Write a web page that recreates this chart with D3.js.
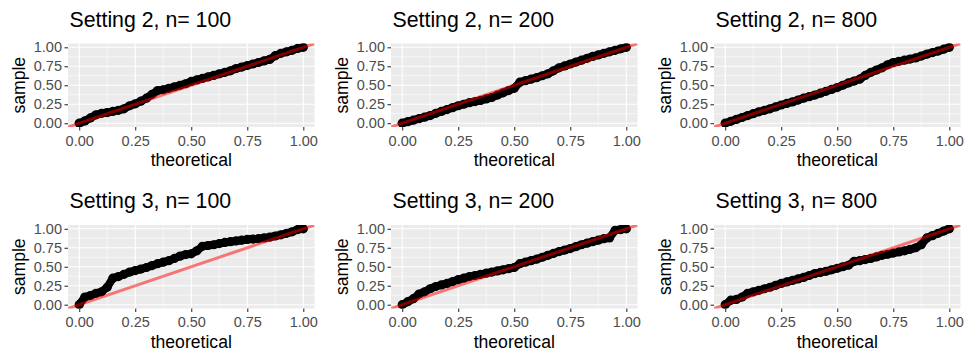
<!DOCTYPE html>
<html>
<head>
<meta charset="utf-8">
<script src="https://cdn.jsdelivr.net/npm/d3@7"></script>
<style>
  html, body { margin: 0; padding: 0; background: #fff; }
  svg { display: block; font-family: "Liberation Sans", Arial, Helvetica, sans-serif; }
</style>
</head>
<body>
<svg id="chart" width="969" height="363"></svg>
<script>
// ---- data ----
const panelTitles = ["Setting 2, n= 100", "Setting 2, n= 200", "Setting 2, n= 800",
                     "Setting 3, n= 100", "Setting 3, n= 200", "Setting 3, n= 800"];
const tickValues = [0, 0.25, 0.5, 0.75, 1];
const tickLabels = ["0.00", "0.25", "0.50", "0.75", "1.00"];
const minorValues = [0.125, 0.375, 0.625, 0.875];
const xTitle = "theoretical";
const yTitle = "sample";

// theoretical quantiles (shared)
const theoretical = [0, 0.025, 0.05, 0.075, 0.1, 0.125, 0.15, 0.175, 0.2, 0.225,
  0.25, 0.275, 0.3, 0.325, 0.35, 0.375, 0.4, 0.425, 0.45, 0.475,
  0.5, 0.525, 0.55, 0.575, 0.6, 0.625, 0.65, 0.675, 0.7, 0.725,
  0.75, 0.775, 0.8, 0.825, 0.85, 0.875, 0.9, 0.925, 0.95, 0.975, 1];

const s2n100 = [0, 0.03, 0.07, 0.11, 0.13, 0.14, 0.155, 0.17, 0.19, 0.23,
  0.255, 0.29, 0.33, 0.38, 0.43, 0.44, 0.46, 0.48, 0.50, 0.52,
  0.55, 0.57, 0.59, 0.61, 0.63, 0.65, 0.67, 0.69, 0.72, 0.74,
  0.76, 0.78, 0.80, 0.82, 0.84, 0.89, 0.92, 0.94, 0.96, 0.985, 1];
const s2n200 = [0, 0.02, 0.04, 0.06, 0.08, 0.10, 0.13, 0.155, 0.18, 0.205,
  0.23, 0.25, 0.27, 0.285, 0.30, 0.32, 0.34, 0.37, 0.40, 0.43,
  0.46, 0.54, 0.56, 0.58, 0.60, 0.625, 0.65, 0.69, 0.73, 0.755,
  0.78, 0.805, 0.83, 0.855, 0.88, 0.90, 0.92, 0.94, 0.96, 0.98, 1];
const s2n800 = [0, 0.025, 0.05, 0.075, 0.10, 0.125, 0.15, 0.17, 0.19, 0.215,
  0.24, 0.26, 0.28, 0.305, 0.33, 0.35, 0.37, 0.395, 0.42, 0.445,
  0.47, 0.50, 0.53, 0.555, 0.58, 0.63, 0.67, 0.70, 0.73, 0.77,
  0.80, 0.815, 0.83, 0.845, 0.86, 0.885, 0.91, 0.93, 0.95, 0.975, 1];
const s3n100 = [0, 0.10, 0.12, 0.15, 0.17, 0.23, 0.35, 0.37, 0.40, 0.43,
  0.45, 0.47, 0.49, 0.515, 0.54, 0.56, 0.58, 0.61, 0.64, 0.66,
  0.67, 0.71, 0.77, 0.78, 0.79, 0.805, 0.82, 0.83, 0.84, 0.85,
  0.86, 0.865, 0.87, 0.88, 0.89, 0.905, 0.92, 0.94, 0.96, 0.99, 1];
const s3n200 = [0, 0.04, 0.08, 0.14, 0.17, 0.21, 0.24, 0.26, 0.28, 0.305,
  0.33, 0.35, 0.37, 0.385, 0.40, 0.415, 0.43, 0.445, 0.46, 0.475,
  0.49, 0.54, 0.56, 0.58, 0.60, 0.625, 0.65, 0.675, 0.70, 0.72,
  0.74, 0.765, 0.79, 0.81, 0.83, 0.85, 0.87, 0.88, 0.98, 0.99, 1];
const s3n800 = [0, 0.06, 0.07, 0.10, 0.15, 0.17, 0.19, 0.21, 0.23, 0.255,
  0.28, 0.30, 0.32, 0.34, 0.36, 0.385, 0.41, 0.425, 0.44, 0.46,
  0.48, 0.50, 0.52, 0.57, 0.58, 0.595, 0.61, 0.63, 0.65, 0.665,
  0.68, 0.695, 0.71, 0.73, 0.75, 0.79, 0.88, 0.91, 0.94, 0.97, 1];

const samples = [s2n100, s2n200, s2n800, s3n100, s3n200, s3n800];

// ---- layout ----
const svg = d3.select("#chart");
const cellW = 323, cellH = 181.5;
const pLeft = 68, pRight = 314.5, pTop = 43.5, pBottom = 127;

const x = d3.scaleLinear().domain([-0.05, 1.05]).range([pLeft, pRight]);
const y = d3.scaleLinear().domain([-0.05, 1.05]).range([pBottom, pTop]);

const defs = svg.append("defs");
defs.append("clipPath").attr("id", "panelClip")
  .append("rect").attr("x", pLeft).attr("y", pTop)
  .attr("width", pRight - pLeft).attr("height", pBottom - pTop);

const band = d3.line().x(d => x(d[0])).y(d => y(d[1]));

samples.forEach((sample, i) => {
  const col = i % 3, row = Math.floor(i / 3);
  const g = svg.append("g").attr("transform", `translate(${col * cellW},${row * cellH})`);
  const pts = theoretical.map((t, k) => [t, sample[k]]);

  // title
  g.append("text").attr("x", pLeft + 1.5).attr("y", 26.5)
    .attr("font-size", 21.3).attr("fill", "#000").text(panelTitles[i]);

  // panel background
  g.append("rect").attr("x", pLeft).attr("y", pTop)
    .attr("width", pRight - pLeft).attr("height", pBottom - pTop).attr("fill", "#EBEBEB");

  // minor grid
  minorValues.forEach(v => {
    g.append("line").attr("x1", x(v)).attr("x2", x(v)).attr("y1", pTop).attr("y2", pBottom)
      .attr("stroke", "#fff").attr("stroke-width", 0.55);
    g.append("line").attr("y1", y(v)).attr("y2", y(v)).attr("x1", pLeft).attr("x2", pRight)
      .attr("stroke", "#fff").attr("stroke-width", 0.55);
  });
  // major grid
  tickValues.forEach(v => {
    g.append("line").attr("x1", x(v)).attr("x2", x(v)).attr("y1", pTop).attr("y2", pBottom)
      .attr("stroke", "#fff").attr("stroke-width", 1.1);
    g.append("line").attr("y1", y(v)).attr("y2", y(v)).attr("x1", pLeft).attr("x2", pRight)
      .attr("stroke", "#fff").attr("stroke-width", 1.1);
  });

  const plot = g.append("g").attr("clip-path", "url(#panelClip)");
  // dense points rendered as a thick band
  plot.append("path").datum(pts).attr("d", band)
    .attr("fill", "none").attr("stroke", "#000").attr("stroke-width", 8)
    .attr("stroke-linejoin", "round").attr("stroke-linecap", "round");
  plot.selectAll("circle").data(pts)
    .enter().append("circle")
    .attr("cx", d => x(d[0])).attr("cy", d => y(d[1])).attr("r", 4.6).attr("fill", "#000");
  // reference line y = x
  plot.append("line")
    .attr("x1", x(-0.05)).attr("y1", y(-0.05)).attr("x2", x(1.05)).attr("y2", y(1.05))
    .attr("stroke", "rgba(255,0,0,0.5)").attr("stroke-width", 3);

  // x axis
  const xAxis = d3.axisBottom(x).tickValues(tickValues)
    .tickFormat((d, k) => tickLabels[k]).tickSize(3.5).tickPadding(5);
  const xa = g.append("g").attr("transform", `translate(0,${pBottom})`).call(xAxis);
  // y axis
  const yAxis = d3.axisLeft(y).tickValues(tickValues)
    .tickFormat((d, k) => tickLabels[k]).tickSize(3.5).tickPadding(2.5);
  const ya = g.append("g").attr("transform", `translate(${pLeft},0)`).call(yAxis);
  [xa, ya].forEach(a => {
    a.select(".domain").remove();
    a.selectAll(".tick line").attr("stroke", "#333").attr("stroke-width", 1.1);
    a.selectAll(".tick text").attr("fill", "#4D4D4D").attr("font-size", 14.5)
      .attr("font-family", "Liberation Sans, Arial, sans-serif");
  });

  // axis titles
  g.append("text").attr("x", (pLeft + pRight) / 2).attr("y", 166)
    .attr("text-anchor", "middle").attr("font-size", 17.6).attr("fill", "#000").text(xTitle);
  g.append("text").attr("transform", `translate(24.5,${(pTop + pBottom) / 2}) rotate(-90)`)
    .attr("text-anchor", "middle").attr("font-size", 17.6).attr("fill", "#000").text(yTitle);
});
</script>
</body>
</html>
